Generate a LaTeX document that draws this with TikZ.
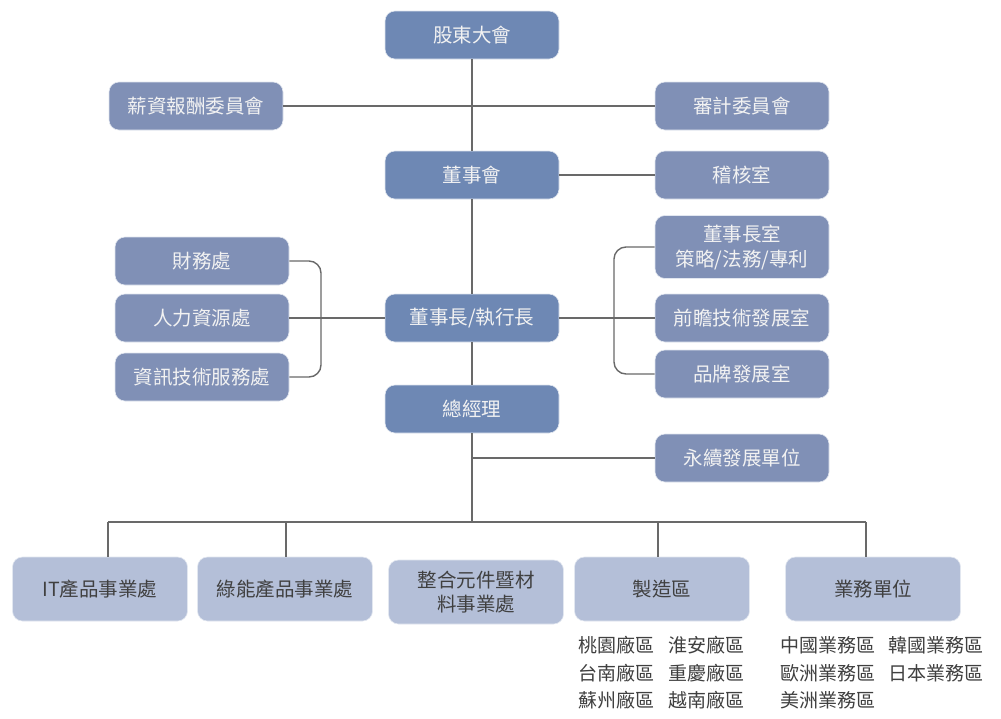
\documentclass[tikz,border=0pt]{standalone}
\usepackage{fontspec}
\setmainfont{Noto Sans CJK TC}
\definecolor{mainblue}{RGB}{110,136,180}
\definecolor{sideblue}{RGB}{128,144,182}
\definecolor{lowblue}{RGB}{180,191,216}
\definecolor{linegray}{RGB}{105,105,105}
\definecolor{darktext}{RGB}{64,64,64}
\tikzset{
  boxbase/.style={rounded corners=10pt, draw=white!80!mainblue, line width=0.6pt, minimum width=174pt, minimum height=48pt, inner sep=0pt, font=\fontsize{19.5}{24}\selectfont, align=center},
  mainbox/.style={boxbase, fill=mainblue, text=white!95!black},
  sidebox/.style={boxbase, fill=sideblue, text=white!95!black},
  lowbox/.style={boxbase, fill=lowblue, text=darktext, minimum height=64pt, minimum width=175pt},
  conn/.style={draw=linegray, line width=1.4pt},
  listtxt/.style={anchor=west, inner sep=0pt, text=darktext, font=\fontsize{19}{24}\selectfont}
}
\begin{document}
\begin{tikzpicture}[x=1pt,y=-1pt]
\useasboundingbox (0,0) rectangle (1001,718);
\fill[white] (0,0) rectangle (1001,718);
\coordinate (tbot) at (472,522);
\coordinate (bl) at (108,522);
\coordinate (br) at (866,522);
% nodes
\node[mainbox] (gd) at (472,35) {股東大會};
\node[sidebox] (xz) at (196,106) {薪資報酬委員會};
\node[sidebox] (sj) at (742,106) {審計委員會};
\node[mainbox] (dsh) at (472,175) {董事會};
\node[sidebox] (jh) at (742,175) {稽核室};
\node[sidebox] (cw) at (202,261) {財務處};
\node[sidebox] (rl) at (202,318) {人力資源處};
\node[sidebox] (zx) at (202,377) {資訊技術服務處};
\node[mainbox] (dsz) at (472,318) {董事長/執行長};
\node[sidebox, minimum height=63pt, font=\fontsize{19.5}{25}\selectfont] (dszs) at (742,247) {董事長室\\策略/法務/專利};
\node[sidebox] (qz) at (742,318) {前瞻技術發展室};
\node[sidebox] (pp) at (742,374) {品牌發展室};
\node[mainbox] (zjl) at (472,409) {總經理};
\node[sidebox] (yx) at (742,458) {永續發展單位};
\node[lowbox] (it) at (100,589) {IT產品事業處};
\node[lowbox] (ln) at (285,589) {綠能產品事業處};
\node[lowbox, font=\fontsize{19.5}{24}\selectfont] (zh) at (476,592) {整合元件暨材\\料事業處};
\node[lowbox] (zz) at (662,589) {製造區};
\node[lowbox] (yw) at (873,589) {業務單位};
% connectors
\draw[conn] (gd.south) -- (dsh.north);
\draw[conn] (xz.east) -- (sj.west);
\draw[conn] (dsh.east) -- (jh.west);
\draw[conn] (dsh.south) -- (dsz.north);
\draw[conn] (dsz.south) -- (zjl.north);
\draw[conn] (zjl.south) -- (tbot);
\draw[conn] (rl.east) -- (dsz.west);
\draw[conn] (dsz.east) -- (qz.west);
\draw[conn, rounded corners=12pt] (cw.east) -| (321,318) |- (zx.east);
\draw[conn, rounded corners=12pt] (dszs.west) -| (614,318) |- (pp.west);
\draw[conn] (zjl.south |- yx.west) -- (yx.west);
\draw[conn] (bl) -- (br);
\draw[conn] (bl) -- (it.north -| bl);
\draw[conn] (286,522) -- (ln.north -| 286,0);
\draw[conn] (658,522) -- (zz.north -| 658,0);
\draw[conn] (br) -- (yw.north -| br);
% lists
\node[listtxt] (l1) at (578,645) {桃園廠區};
\node[listtxt] (l2) at (578,673) {台南廠區};
\node[listtxt] (l3) at (578,700) {蘇州廠區};
\node[listtxt] (l4) at (668,645) {淮安廠區};
\node[listtxt] (l5) at (668,673) {重慶廠區};
\node[listtxt] (l6) at (668,700) {越南廠區};
\node[listtxt] (m1) at (780,645) {中國業務區};
\node[listtxt] (m2) at (780,673) {歐洲業務區};
\node[listtxt] (m3) at (780,700) {美洲業務區};
\node[listtxt] (m4) at (888,645) {韓國業務區};
\node[listtxt] (m5) at (888,673) {日本業務區};
\end{tikzpicture}
\end{document}
